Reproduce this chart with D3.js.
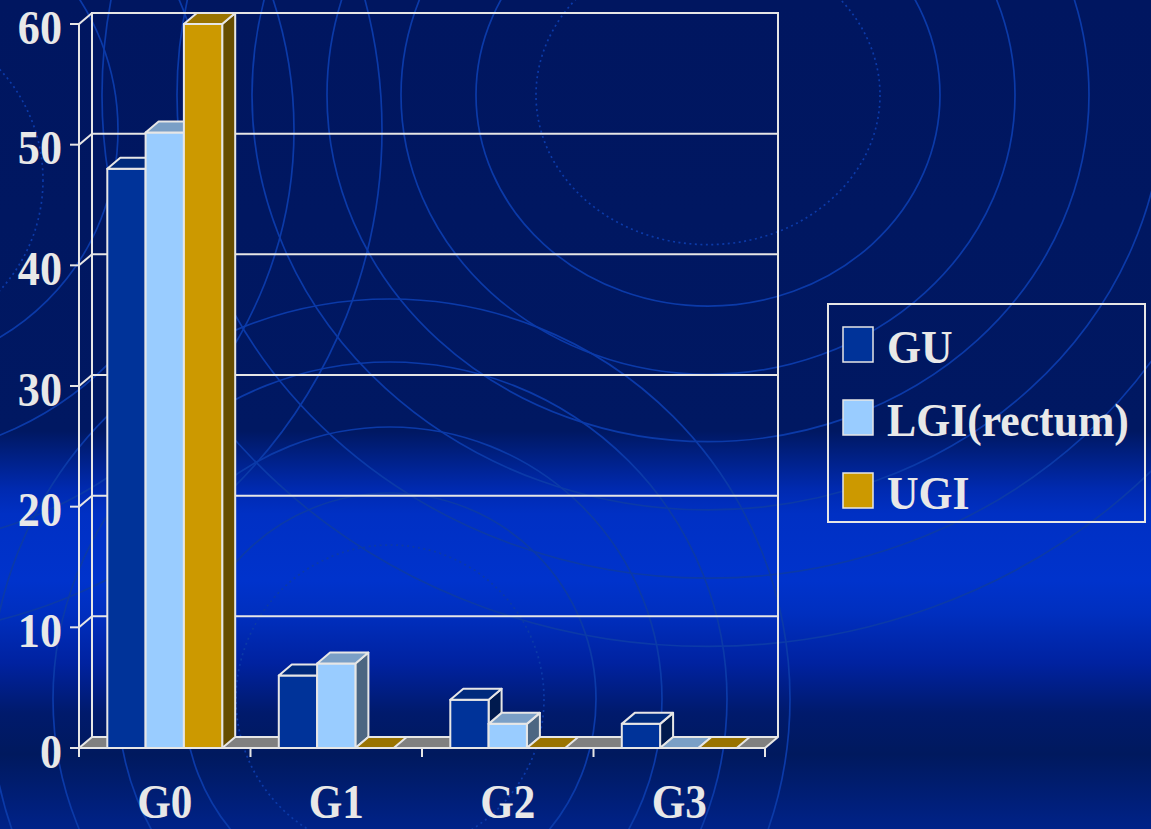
<!DOCTYPE html>
<html>
<head>
<meta charset="utf-8">
<script src="https://cdn.jsdelivr.net/npm/d3@7"></script>
<style>
  html, body { margin: 0; padding: 0; background: #001660; }
  svg { display: block; }
  text { font-family: "Liberation Serif", "Times New Roman", serif; font-weight: bold; fill: #e8e8e8; }
</style>
</head>
<body>
<svg id="chart" width="1151" height="829"></svg>
<script>
// Grade categories and the three series plotted per grade
const categories = ["G0", "G1", "G2", "G3"];
const seriesNames = ["GU", "LGI(rectum)", "UGI"];
const guValues = [48, 6, 4, 2];
const lgiValues = [51, 7, 2, 0];
const ugiValues = [60, 0, 0, 0];
const yTicks = [0, 10, 20, 30, 40, 50, 60];

const seriesValues = [guValues, lgiValues, ugiValues];

// face colours per series: front, top, side
const palette = [
  { front: "#003399", top: "#002a7c", side: "#001a4e" },
  { front: "#99ccff", top: "#7a9fc6", side: "#4c6682" },
  { front: "#cc9900", top: "#997300", side: "#664d00" }
];

const W = 1151, H = 829;
const svg = d3.select("#chart");

// ---------- background ----------
const defs = svg.append("defs");
const bg = defs.append("linearGradient")
  .attr("id", "bg").attr("x1", 0).attr("y1", 0).attr("x2", 0).attr("y2", 1);
[
  [0, "#001660"], [0.52, "#001862"], [0.59, "#002ab0"], [0.62, "#0030c4"],
  [0.7, "#0033cc"], [0.74, "#002fbf"], [0.8, "#0022a0"], [0.86, "#001a6c"],
  [0.91, "#00195e"], [1, "#002288"]
].forEach(([o, c]) => bg.append("stop").attr("offset", o).attr("stop-color", c));
svg.append("rect").attr("width", W).attr("height", H).attr("fill", "url(#bg)");

const rings = svg.append("g").attr("fill", "none").attr("stroke", "#0b3aa8").attr("stroke-width", 1.7);
function ringSet(cx, cy, radii, squash, dotted) {
  radii.forEach(r => {
    rings.append("ellipse").attr("cx", cx).attr("cy", cy)
      .attr("rx", r).attr("ry", r * squash)
      .attr("stroke-dasharray", dotted ? "2 3.5" : null);
  });
}
ringSet(708, 95, [232, 307, 381, 456, 531, 606], 0.91, false);
ringSet(708, 95, [172], 0.87, true);
ringSet(-123, 130, [241, 329, 417, 505], 1, false);
ringSet(-120, 180, [163], 1, true);
ringSet(390, 699, [206, 272, 337, 400], 1, false);
ringSet(390, 699, [154], 1, true);

// ---------- scales ----------
const DX = 13, DY = -11;            // depth offset of the back plane
const xLeft = 79, xRight = 765, yBase = 748, yTop = 24;

const y = d3.scaleLinear().domain([0, 60]).range([yBase, yTop]);
const x0 = d3.scaleBand().domain(categories).range([xLeft, xRight])
  .paddingInner(0.33).paddingOuter(0.165);
const x1 = d3.scaleBand().domain(seriesNames).range([0, x0.bandwidth()]);

const LINE = "#e6e6e6";
const pts = a => a.map(p => p.join(",")).join(" ");

// ---------- walls ----------
const walls = svg.append("g");
// back wall outline
walls.append("polyline")
  .attr("points", pts([[xLeft + DX, y(0) + DY], [xLeft + DX, y(60) + DY], [xRight + DX, y(60) + DY], [xRight + DX, y(0) + DY]]))
  .attr("fill", "none").attr("stroke", LINE).attr("stroke-width", 2);
// gridlines on back wall and their slanted links on the side wall
walls.selectAll("line.grid").data(yTicks.filter(t => t > 0 && t < 60)).join("line")
  .attr("x1", xLeft + DX).attr("x2", xRight + DX)
  .attr("y1", d => y(d) + DY).attr("y2", d => y(d) + DY)
  .attr("stroke", LINE).attr("stroke-width", 2);
walls.selectAll("line.link").data(yTicks.filter(t => t > 0)).join("line")
  .attr("x1", xLeft).attr("x2", xLeft + DX)
  .attr("y1", d => y(d)).attr("y2", d => y(d) + DY)
  .attr("stroke", LINE).attr("stroke-width", 2);

// floor
walls.append("polygon")
  .attr("points", pts([[xLeft, yBase], [xRight, yBase], [xRight + DX, yBase + DY], [xLeft + DX, yBase + DY]]))
  .attr("fill", "#808080").attr("stroke", LINE).attr("stroke-width", 2).attr("stroke-linejoin", "round");

// ---------- bars ----------
const barsG = svg.append("g").attr("stroke", LINE).attr("stroke-width", 2).attr("stroke-linejoin", "round");
const bw = x1.bandwidth();
categories.forEach((cat, ci) => {
  seriesNames.forEach((s, si) => {
    const v = seriesValues[si][ci];
    const c = palette[si];
    const xa = x0(cat) + x1(s), xb = xa + bw;
    const yv = y(v), y0 = y(0);
    if (v > 0) {
      barsG.append("polygon")
        .attr("points", pts([[xb, yv], [xb + DX, yv + DY], [xb + DX, y0 + DY], [xb, y0]]))
        .attr("fill", c.side);
      barsG.append("rect")
        .attr("x", xa).attr("y", yv).attr("width", bw).attr("height", y0 - yv)
        .attr("fill", c.front);
    }
    barsG.append("polygon")
      .attr("points", pts([[xa, yv], [xb, yv], [xb + DX, yv + DY], [xa + DX, yv + DY]]))
      .attr("fill", c.top);
  });
});

// ---------- axes ----------
const axes = svg.append("g").attr("stroke", LINE).attr("stroke-width", 2);
axes.append("line").attr("x1", xLeft).attr("x2", xLeft).attr("y1", y(60)).attr("y2", yBase + 9);
axes.append("line").attr("x1", xLeft).attr("x2", xRight).attr("y1", yBase).attr("y2", yBase);
axes.selectAll("line.yt").data(yTicks).join("line")
  .attr("x1", xLeft - 9).attr("x2", xLeft).attr("y1", d => y(d)).attr("y2", d => y(d));
const bounds = categories.map(c => x0(c) - x0.step() * x0.paddingOuter()).concat([xRight]);
axes.selectAll("line.xt").data(bounds).join("line")
  .attr("x1", d => d).attr("x2", d => d).attr("y1", yBase).attr("y2", yBase + 9);

// y tick labels
svg.append("g").selectAll("text").data(yTicks).join("text")
  .attr("transform", d => `translate(${xLeft - 17},${y(d) + 19.5}) scale(0.92,1)`)
  .attr("text-anchor", "end").style("font-size", "48px")
  .text(d => d);

// category labels
svg.append("g").selectAll("text").data(categories).join("text")
  .attr("transform", d => `translate(${x0(d) + x0.bandwidth() / 2},818) scale(0.88,1)`)
  .attr("text-anchor", "middle").style("font-size", "49px")
  .text(d => d);

// ---------- legend ----------
const lg = svg.append("g");
lg.append("rect").attr("x", 828).attr("y", 304).attr("width", 317).attr("height", 218)
  .attr("fill", "none").attr("stroke", LINE).attr("stroke-width", 2);
const items = lg.selectAll("g.item").data(seriesNames).join("g")
  .attr("transform", (d, i) => `translate(843,${327 + i * 73})`);
items.append("rect").attr("width", 30).attr("height", 35)
  .attr("fill", (d, i) => palette[i].front).attr("stroke", LINE).attr("stroke-width", 1.5);
items.append("text")
  .attr("transform", "translate(44,36) scale(0.93,1)")
  .style("font-size", "47px")
  .text(d => d);
</script>
</body>
</html>
